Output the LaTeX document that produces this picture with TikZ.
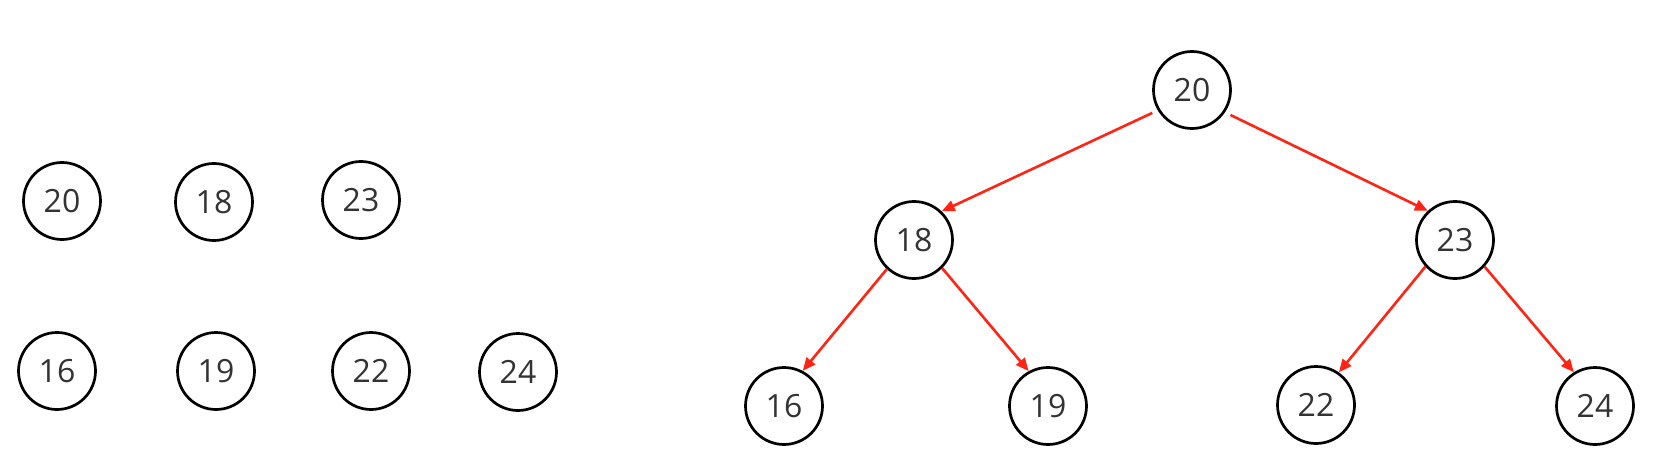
\documentclass[tikz,border=0pt]{standalone}
\usepackage{fontspec}
\setmainfont{Open Sans}
\usetikzlibrary{arrows.meta}
\definecolor{edgered}{HTML}{FF2414}
\definecolor{digit}{HTML}{333333}
\tikzset{
  keynode/.style={circle,draw=black,line width=2.7pt,minimum size=77pt,inner sep=0pt,
    text=digit,font=\fontsize{32}{32}\selectfont},
  treeedge/.style={draw=edgered,line width=2.6pt,-{Triangle[length=13pt,width=11pt]}}
}
\begin{document}
\begin{tikzpicture}[x=1pt,y=-1pt]
\useasboundingbox (0,0) rectangle (1666,468);
% loose keys
\node[keynode] (a20) at (62,201) {20};
\node[keynode] (a18) at (214,202) {18};
\node[keynode] (a23) at (361,200) {23};
\node[keynode] (a16) at (57,371) {16};
\node[keynode] (a19) at (216,371) {19};
\node[keynode] (a22) at (371,371) {22};
\node[keynode] (a24) at (518,372) {24};
% tree
\node[keynode] (t20) at (1192,90) {20};
\node[keynode] (t18) at (914,240) {18};
\node[keynode] (t23) at (1455,240) {23};
\node[keynode] (t16) at (784,406) {16};
\node[keynode] (t19) at (1048,406) {19};
\node[keynode] (t22) at (1316,405) {22};
\node[keynode] (t24) at (1595,406) {24};
\coordinate (s1) at ([shift={(210:6pt)}]t20.210);
\coordinate (s2) at ([shift={(327:6pt)}]t20.327);
\draw[treeedge] (s1) -- (t18.46);
\draw[treeedge] (s2) -- (t23.133);
\draw[treeedge] (t18.227) -- (t16.62);
\draw[treeedge] (t18.315) -- (t19.119);
\draw[treeedge] (t23.222) -- (t22.55);
\draw[treeedge] (t23.318) -- (t24.122);
\end{tikzpicture}
\end{document}
